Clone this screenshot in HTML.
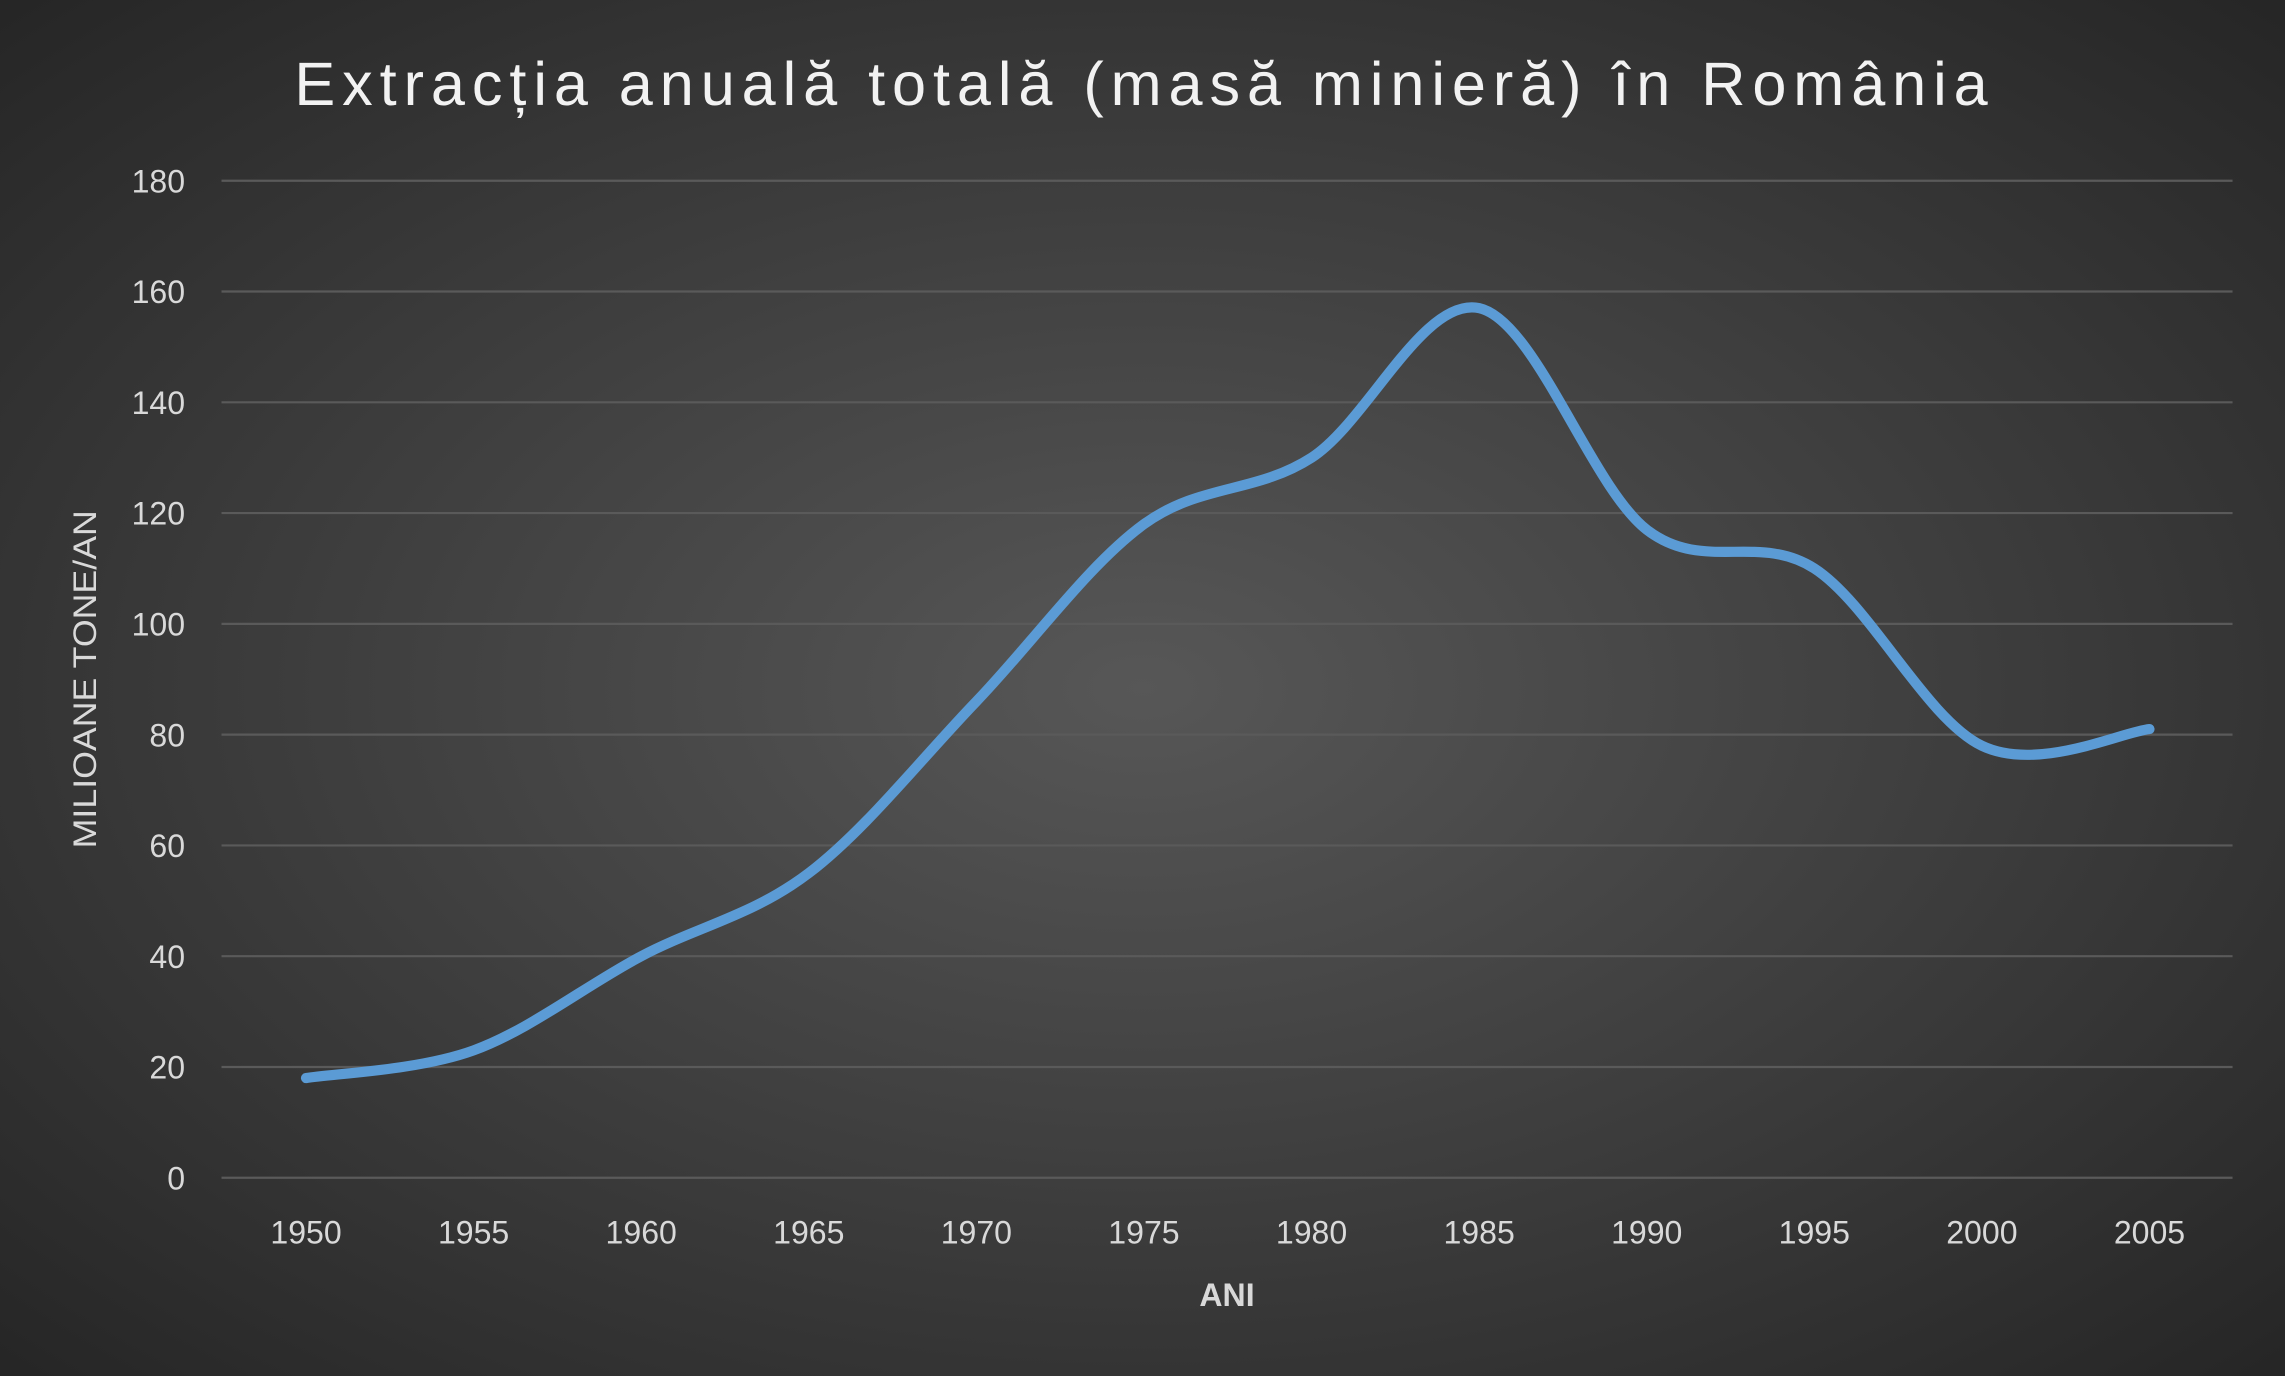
<!DOCTYPE html>
<html><head><meta charset="utf-8"><style>
html,body{margin:0;padding:0;background:#2a2a2a;}
svg{display:block}
text{font-family:"Liberation Sans",sans-serif;fill:#d9d9d9}
</style></head><body>
<svg width="2285" height="1376" viewBox="0 0 1568 944" preserveAspectRatio="none" xmlns="http://www.w3.org/2000/svg">
<defs>
<radialGradient id="bg" cx="50%" cy="50%" r="70%">
<stop offset="0" stop-color="#575757"/>
<stop offset="1" stop-color="#262626"/>
</radialGradient>
</defs>
<rect width="1568" height="944" fill="url(#bg)"/>
<text x="783" y="72" text-anchor="middle" font-size="42" textLength="1162" lengthAdjust="spacing" style="fill:#f2f2f2">Extracția anuală totală (masă minieră) în România</text>
<g id="grid" stroke="#5a5a5a" stroke-width="1.5"></g>
<g id="ylab" font-size="22" text-anchor="end"></g>
<g id="xlab" font-size="22" text-anchor="middle"></g>
<text x="842" y="896" text-anchor="middle" font-size="22" font-weight="bold">ANI</text>
<text transform="translate(66,466) rotate(-90)" text-anchor="middle" font-size="22" textLength="232" lengthAdjust="spacingAndGlyphs">MILIOANE TONE/AN</text>
<path id="curve" fill="none" stroke="#5b9bd5" stroke-width="7" stroke-linecap="round" stroke-linejoin="round"/>
</svg>
<script>
var ns="http://www.w3.org/2000/svg";
var g=document.getElementById('grid'),yl=document.getElementById('ylab'),xl=document.getElementById('xlab');
for(var v=0;v<=180;v+=20){var y=808-v*3.8;
var l=document.createElementNS(ns,'line');l.setAttribute('x1',152);l.setAttribute('x2',1532);l.setAttribute('y1',y);l.setAttribute('y2',y);g.appendChild(l);
var t=document.createElementNS(ns,'text');t.setAttribute('x',127);t.setAttribute('y',y+8);t.textContent=v;yl.appendChild(t);}
var vals=[18,23,40,55,86,118,130,157,117,110,78,81];
var pts=[];
for(var i=0;i<12;i++){var x=210+115*i;pts.push([x,808-vals[i]*3.8]);
var t=document.createElementNS(ns,'text');t.setAttribute('x',x);t.setAttribute('y',853);t.textContent=1950+5*i;xl.appendChild(t);}
var d='M'+pts[0][0]+' '+pts[0][1];
for(var i=0;i<pts.length-1;i++){var p0=pts[i-1]||pts[i],p1=pts[i],p2=pts[i+1],p3=pts[i+2]||p2;
var c1=[p1[0]+(p2[0]-p0[0])/6,p1[1]+(p2[1]-p0[1])/6],c2=[p2[0]-(p3[0]-p1[0])/6,p2[1]-(p3[1]-p1[1])/6];
d+=' C'+c1+' '+c2+' '+p2;}
document.getElementById('curve').setAttribute('d',d);
</script>
</body></html>
